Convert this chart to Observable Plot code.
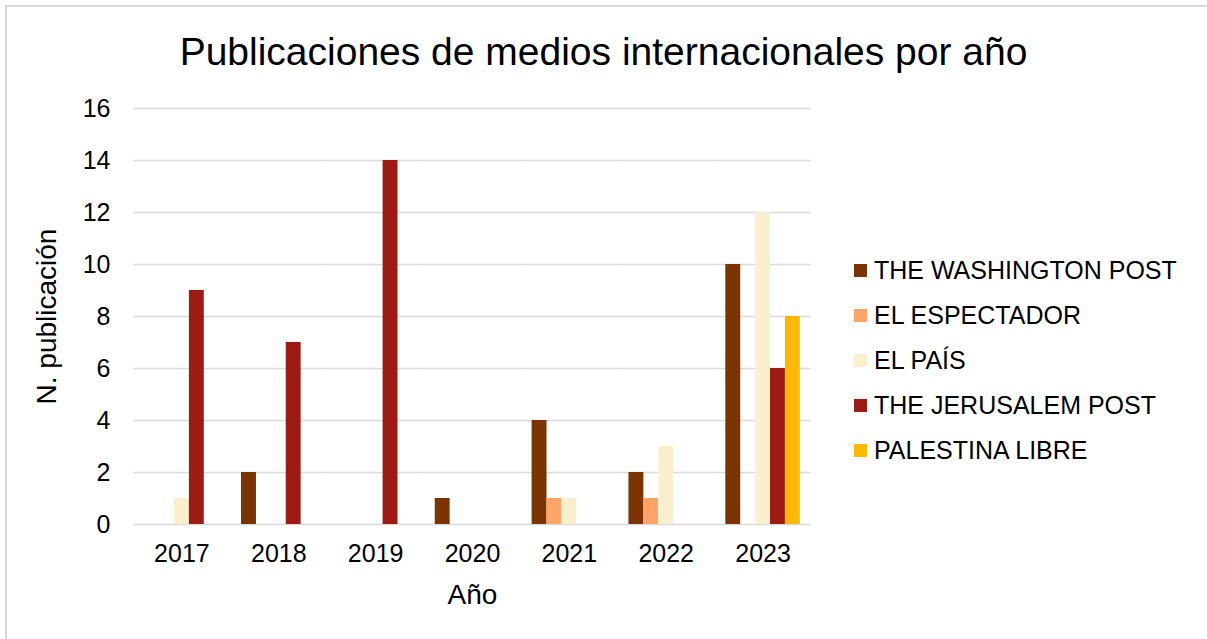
<!DOCTYPE html>
<html>
<head>
<meta charset="utf-8">
<script src="https://cdn.jsdelivr.net/npm/d3@7"></script>
<script src="https://cdn.jsdelivr.net/npm/@observablehq/plot@0.6"></script>
<style>
  html, body { margin: 0; padding: 0; background: #fff; }
  body { width: 1207px; height: 639px; overflow: hidden; position: relative;
         font-family: "Liberation Sans", Arial, sans-serif; color: #000; }
  #frame { position: absolute; left: 5px; top: 5px; width: 1400px; height: 800px;
           border-top: 2px solid #d9d9d9; border-left: 2px solid #d9d9d9; }
  #title { position: absolute; left: 0; top: 32px; width: 1207px; text-align: center;
           font-size: 39px; line-height: 40px; white-space: nowrap; }
  #chart { position: absolute; left: 0; top: 90px; }
  #legend { position: absolute; left: 854px; top: 0; }
  .item { position: absolute; left: 0; display: flex; align-items: center; height: 30px;
          font-size: 25px; white-space: nowrap; }
  .sw { width: 13px; height: 13px; margin-right: 7px; flex: none; }
</style>
</head>
<body>
<div id="frame"></div>
<div id="title">Publicaciones de medios internacionales por año</div>
<div id="chart"></div>
<div id="legend"></div>
<script>
// ---- data ----
const years = ["2017", "2018", "2019", "2020", "2021", "2022", "2023"];
const series = ["THE WASHINGTON POST", "EL ESPECTADOR", "EL PAÍS", "THE JERUSALEM POST", "PALESTINA LIBRE"];
const washingtonPost = [0, 2, 0, 1, 4, 2, 10];
const elEspectador   = [0, 0, 0, 0, 1, 1, 0];
const elPais         = [1, 0, 0, 0, 1, 3, 12];
const jerusalemPost  = [9, 7, 14, 0, 0, 0, 6];
const palestinaLibre = [0, 0, 0, 0, 0, 0, 8];
const colors = ["#7b3300", "#ffa366", "#fbefcd", "#9c1b12", "#fdb900"];
const yTicks = [0, 2, 4, 6, 8, 10, 12, 14, 16];

const seriesValues = [washingtonPost, elEspectador, elPais, jerusalemPost, palestinaLibre];
const data = [];
years.forEach((year, i) => {
  series.forEach((s, j) => {
    data.push({year, series: s, value: seriesValues[j][i]});
  });
});

const chart = Plot.plot({
  width: 830,
  height: 530,
  marginLeft: 133,
  marginRight: 19,
  marginTop: 18,
  marginBottom: 96,
  style: {fontFamily: "'Liberation Sans', Arial, sans-serif", color: "#000", background: "transparent", overflow: "visible"},
  fx: {domain: years, padding: 0, round: false, label: "Año"},
  x: {domain: series, paddingInner: 0, paddingOuter: 0.75, round: false, axis: null},
  y: {domain: [0, 16], label: "N. publicación"},
  color: {domain: series, range: colors},
  marks: [
    Plot.ruleY(yTicks, {stroke: "#d9d9d9", strokeWidth: 1.5}),
    Plot.barY(data, {fx: "year", x: "series", y: "value", fill: "series", inset: 0}),
    Plot.axisY({ticks: yTicks, tickSize: 0, tickPadding: 23, fontSize: 25,
                label: "N. publicación", labelAnchor: "center", labelArrow: "none", labelOffset: 97}),
    Plot.axisFx({anchor: "bottom", tickSize: 0, tickPadding: 20, fontSize: 25,
                 label: "Año", labelAnchor: "center", labelArrow: "none", labelOffset: 79})
  ]
});
// enlarge axis titles
chart.querySelectorAll("text").forEach(t => {
  const s = t.textContent.trim();
  if (s === "N. publicación" || s === "Año") t.style.fontSize = "28px";
});
document.getElementById("chart").appendChild(chart);

// legend
const legend = document.getElementById("legend");
const centers = [270, 315, 360, 405, 450];
series.forEach((s, j) => {
  const item = document.createElement("div");
  item.className = "item";
  item.style.top = (centers[j] - 15) + "px";
  const sw = document.createElement("span");
  sw.className = "sw";
  sw.style.background = colors[j];
  const tx = document.createElement("span");
  tx.textContent = s;
  item.appendChild(sw);
  item.appendChild(tx);
  legend.appendChild(item);
});
</script>
</body>
</html>
